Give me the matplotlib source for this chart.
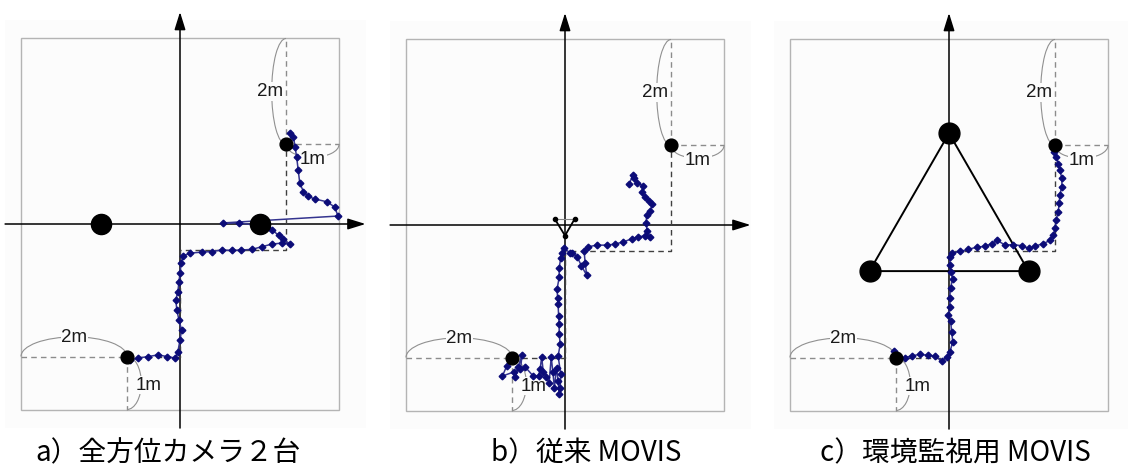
import matplotlib
matplotlib.use("Agg")
import matplotlib.pyplot as plt
from matplotlib.patches import Arc, Rectangle

plt.rcParams['font.family'] = ['Noto Sans CJK JP', 'DejaVu Sans']

# 軌跡データ (m)
a_x = [-1.00, -0.94, -0.79, -0.60, -0.41, -0.25, -0.09, -0.04, 0.00, 0.03, -0.02, -0.06, -0.08, -0.04,
       -0.02, 0.00, 0.02, 0.06, 0.19, 0.41, 0.60, 0.79, 0.98, 1.16, 1.35, 1.54, 1.73, 1.92, 2.08, 1.95,
       1.86, 1.73, 1.64, 1.11, 0.81, 2.98, 2.92, 2.77, 2.55, 2.42, 2.33, 2.26, 2.23, 2.20, 2.17, 2.14, 2.08]
a_y = [-2.51, -2.57, -2.53, -2.50, -2.47, -2.50, -2.53, -2.41, -2.19, -2.00, -1.81, -1.62, -1.43, -1.28,
       -1.09, -0.93, -0.74, -0.60, -0.55, -0.53, -0.52, -0.49, -0.50, -0.49, -0.48, -0.43, -0.38, -0.36,
       -0.38, -0.29, -0.21, -0.11, -0.05, 0.02, 0.02, 0.15, 0.32, 0.42, 0.47, 0.52, 0.61, 0.77, 1.02,
       1.27, 1.46, 1.65, 1.72]

b_x = [-1.00, -1.10, -1.18, -0.96, -0.94, -0.88, -0.81, -0.84, -0.75, -0.60, -0.50, -0.47, -0.44, -0.41,
       -0.35, -0.30, -0.26, -0.23, -0.20, -0.16, -0.13, -0.11, -0.09, -0.08, -0.13, -0.09, -0.11, -0.11,
       -0.12, -0.13, -0.14, -0.15, -0.11, -0.11, -0.08, -0.06, -0.02, 0.09, 0.13, 0.23, 0.31, 0.41, 0.38,
       0.36, 0.44, 0.60, 0.79, 0.94, 1.10, 1.26, 1.38, 1.51, 1.60, 1.55, 1.53, 1.54, 1.60, 1.65, 1.59,
       1.51, 1.45, 1.47, 1.35, 1.31, 1.28, 1.21]
b_y = [-2.50, -2.66, -2.85, -2.77, -2.86, -2.67, -2.45, -2.72, -2.68, -2.85, -2.85, -2.72, -2.49, -2.77,
       -2.86, -2.99, -2.49, -2.77, -3.07, -2.69, -2.94, -3.19, -3.07, -2.82, -2.47, -2.25, -2.06, -1.87,
       -1.72, -1.50, -1.37, -1.21, -0.99, -0.81, -0.62, -0.52, -0.44, -0.52, -0.52, -0.60, -0.77, -0.95,
       -0.71, -0.49, -0.41, -0.38, -0.38, -0.36, -0.32, -0.26, -0.22, -0.21, -0.22, -0.11, 0.03, 0.19,
       0.26, 0.39, 0.45, 0.53, 0.62, 0.74, 0.80, 0.89, 0.94, 0.77]

c_x = [-1.04, -1.02, -0.83, -0.70, -0.55, -0.39, -0.26, -0.14, -0.04, 0.02, 0.07, 0.05, 0.03, -0.01,
       0.02, 0.01, 0.03, 0.07, 0.03, 0.02, 0.01, 0.05, 0.21, 0.36, 0.52, 0.68, 0.81, 0.91, 1.06, 1.21,
       1.37, 1.50, 1.62, 1.78, 1.91, 1.97, 2.00, 2.02, 2.06, 2.08, 2.09, 2.13, 2.13, 2.09, 2.06, 2.02, 1.98]
c_y = [-2.38, -2.52, -2.50, -2.47, -2.44, -2.46, -2.47, -2.57, -2.49, -2.39, -2.20, -2.01, -1.82, -1.70,
       -1.54, -1.38, -1.19, -1.01, -0.88, -0.75, -0.60, -0.53, -0.50, -0.46, -0.42, -0.40, -0.35, -0.29,
       -0.38, -0.37, -0.39, -0.44, -0.40, -0.35, -0.29, -0.19, -0.06, 0.09, 0.25, 0.41, 0.57, 0.72, 0.88,
       1.04, 1.16, 1.29, 1.38]

# カメラ位置
cam_a_x = [-1.5, 1.5]
cam_a_y = [0.0, 0.0]
cam_c_x = [0.0, -1.5, 1.5]
cam_c_y = [1.73, -0.87, -0.87]

# 始点・終点
start = (-1.0, -2.5)
goal = (2.0, 1.5)
route_x = [-1.0, 0.0, 0.0, 2.0, 2.0]
route_y = [-2.5, -2.5, -0.5, -0.5, 1.5]

captions = ['a）全方位カメラ２台', 'b）従来 MOVIS', 'c）環境監視用 MOVIS']

W, H = 1128, 467
PX = 53.0  # pixel / m
BG = '#fcfcfc'
NAVY = '#0c0c78'

fig = plt.figure(figsize=(W / 100, H / 100), dpi=100)
fig.patch.set_facecolor('white')


def make_ax(x0, ox, oy):
    ax = fig.add_axes([x0 / W, 0, 376 / W, 1])
    ax.set_xlim((x0 - ox) / PX, (x0 + 376 - ox) / PX)
    ax.set_ylim((oy - H) / PX, oy / PX)
    ax.set_axis_off()
    return ax


def base(ax):
    ax.add_patch(Rectangle((-3.3, -3.85), 6.8, 7.7, facecolor=BG, edgecolor='none', zorder=0))
    ax.add_patch(Rectangle((-3, -3.5), 6, 7, facecolor='none', edgecolor='#b4b4b4', lw=1, zorder=1))
    # 座標軸
    arr = dict(arrowstyle='-|>,head_length=0.9,head_width=0.28', color='black', lw=1.1,
               mutation_scale=12, shrinkA=0, shrinkB=0)
    ax.annotate('', xy=(3.5, 0), xytext=(-3.3, 0), arrowprops=arr, zorder=2)
    ax.annotate('', xy=(0, 4.0), xytext=(0, -3.85), arrowprops=arr, zorder=2)
    # 経路 (破線)
    ax.plot(route_x, route_y, ls=(0, (4, 3)), color='#404040', lw=1, zorder=2)
    for xs, ys in [([-3, -1], [-2.5, -2.5]), ([-1, -1], [-2.5, -3.5]),
                   ([2, 2], [1.5, 3.5]), ([2, 3], [1.5, 1.5])]:
        ax.plot(xs, ys, ls=(0, (4, 3)), color='#8c8c8c', lw=1, zorder=2)
    # 寸法の弧
    arc_kw = dict(color='#909090', lw=0.8, zorder=2)
    ax.add_patch(Arc((-2, -2.5), 2.0, 0.74, theta1=0, theta2=180, **arc_kw))
    ax.add_patch(Arc((-1, -3.0), 0.54, 1.0, theta1=-90, theta2=90, **arc_kw))
    ax.add_patch(Arc((2, 2.5), 0.54, 2.0, theta1=90, theta2=270, **arc_kw))
    ax.add_patch(Arc((2.5, 1.5), 1.0, 0.48, theta1=180, theta2=360, **arc_kw))
    lab = dict(fontsize=13.5, family=['Liberation Sans', 'DejaVu Sans'], color='#1a1a1a',
               ha='center', va='center', zorder=3,
               bbox=dict(facecolor=BG, edgecolor='none', pad=0.5))
    ax.text(-1.99, -2.14, '2m', **lab)
    ax.text(-0.59, -3.04, '1m', **lab)
    ax.text(1.70, 2.50, '2m', **lab)
    ax.text(2.51, 1.21, '1m', **lab)


def track(ax, xs, ys):
    ax.plot(xs, ys, color='#34348f', lw=1.1, zorder=4)
    ax.plot(xs, ys, ls='none', marker='D', ms=3.4, color=NAVY, zorder=5)
    ax.plot([start[0], goal[0]], [start[1], goal[1]], ls='none', marker='o', ms=9.2,
            color='black', zorder=6)


# a) 全方位カメラ２台
ax1 = make_ax(0, 180, 224)
base(ax1)
track(ax1, a_x, a_y)
ax1.plot(cam_a_x, cam_a_y, ls='none', marker='o', ms=14.5, color='black', zorder=6)

# b) 従来 MOVIS
ax2 = make_ax(376, 565, 225)
base(ax2)
track(ax2, b_x, b_y)
ax2.plot([-0.19, 0.18], [0.11, 0.11], color='#888888', lw=0.8, zorder=6)
ax2.plot([-0.19, 0.0, 0.18], [0.11, -0.2, 0.11], color='black', lw=1.3, zorder=6)
ax2.plot([-0.19, 0.0, 0.18], [0.11, -0.2, 0.11], ls='none', marker='o', ms=3, color='black', zorder=7)

# c) 環境監視用 MOVIS
ax3 = make_ax(752, 949, 225)
base(ax3)
track(ax3, c_x, c_y)
ax3.plot(cam_c_x + [cam_c_x[0]], cam_c_y + [cam_c_y[0]], color='black', lw=1.4, zorder=3)
ax3.plot(cam_c_x, cam_c_y, ls='none', marker='o', ms=15, color='black', zorder=6)

# キャプション
for x0, s in zip([35, 491, 820], captions):
    fig.text(x0 / W, 1 - 453 / H, s, fontsize=20, ha='left', va='center', color='black')

fig.savefig('out.png', dpi=100, facecolor='white')
